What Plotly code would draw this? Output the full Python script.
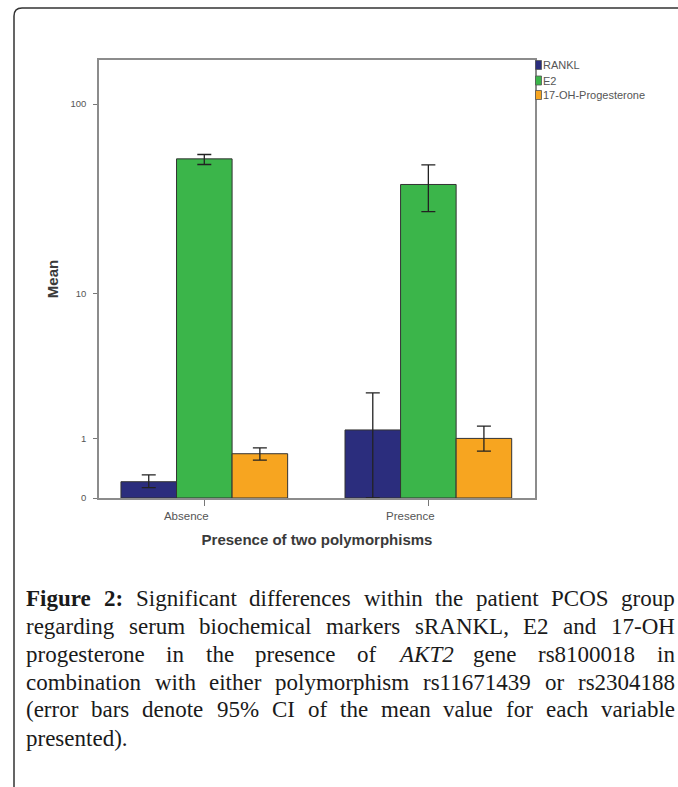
import math
import plotly.graph_objects as go

# ---------------- data ----------------
categories = ["Absence", "Presence"]
series_names = ["RANKL", "E2", "17-OH-Progesterone"]
rankl_mean = [0.21, 1.22]
rankl_lo = [0.13, 0.0]
rankl_hi = [0.31, 2.43]
e2_mean = [52.2, 38.4]
e2_lo = [48.8, 27.7]
e2_hi = [55.0, 48.6]
ohp_mean = [0.68, 1.01]
ohp_lo = [0.56, 0.73]
ohp_hi = [0.80, 1.32]
ytick_values = [0, 1, 10, 100]
ytick_labels = ["0", "1", "10", "100"]
series_colors = ["#2b2d7d", "#3bb54a", "#f7a520"]

x_title = "Presence of two polymorphisms"
y_title = "Mean"

caption_lines = [
    [("Figure", "b"), ("2:", "b"), ("Significant", ""), ("differences", ""), ("within", ""),
     ("the", ""), ("patient", ""), ("PCOS", ""), ("group", "")],
    [(w, "") for w in "regarding serum biochemical markers sRANKL, E2 and 17-OH".split()],
    [("progesterone", ""), ("in", ""), ("the", ""), ("presence", ""), ("of", ""), ("AKT2", "i"),
     ("gene", ""), ("rs8100018", ""), ("in", "")],
    [(w, "") for w in "combination with either polymorphism rs11671439 or rs2304188".split()],
    [(w, "") for w in "(error bars denote 95% CI of the mean value for each variable".split()],
    [(w, "") for w in "presented).".split()],
]

# ---------------- helpers ----------------
W, H = 678, 787
PL, PR, PT, PB = 99, 535, 60, 498


def xp(px):
    return (px - PL) / (PR - PL)


def yp(py):
    return (PB - py) / (PB - PT)


def safelog(v):
    # SPSS "safe log" scale: log10(v + 1)
    return math.log10(v + 1.0)


# ---------------- traces ----------------
fig = go.Figure()
series = [
    (rankl_mean, rankl_lo, rankl_hi),
    (e2_mean, e2_lo, e2_hi),
    (ohp_mean, ohp_lo, ohp_hi),
]
for name, color, (m, lo, hi) in zip(series_names, series_colors, series):
    tm = [safelog(v) for v in m]
    up = [safelog(h) - t for h, t in zip(hi, tm)]
    dn = [t - safelog(l) for l, t in zip(lo, tm)]
    fig.add_trace(go.Bar(
        name=name, x=categories, y=tm,
        marker=dict(color=color, line=dict(color="#333333", width=1)),
        error_y=dict(type="data", array=up, arrayminus=dn, visible=True,
                     color="#222222", thickness=1.3, width=7),
        showlegend=False,
    ))

# ---------------- manual compact legend ----------------
shapes = []
annotations = []
leg_y = [65, 80.5, 95]
for name, color, cy in zip(series_names, series_colors, leg_y):
    shapes.append(dict(type="rect", xref="paper", yref="paper",
                       x0=xp(535.5), x1=xp(541.5), y0=yp(cy + 4.5), y1=yp(cy - 4.5),
                       fillcolor=color, line=dict(color="#555555", width=0.8)))
    annotations.append(dict(text=name, xref="paper", yref="paper", x=xp(542.5), y=yp(cy),
                            xanchor="left", yanchor="middle", showarrow=False,
                            borderpad=0, borderwidth=0,
                            font=dict(family="Liberation Sans, Arial", size=11, color="#555555")))

# ---------------- outer rounded frame ----------------
r = 8
frame_path = (f"M {xp(14)},{yp(800)} L {xp(14)},{yp(8 + r)} "
              f"Q {xp(14)},{yp(8)} {xp(14 + r)},{yp(8)} L {xp(720)},{yp(8)}")
shapes.append(dict(type="path", xref="paper", yref="paper", path=frame_path,
                   line=dict(color="#333333", width=1.5)))

# ---------------- justified caption ----------------
REG = dict(zip("abcdefghijklmnopqrstuvwxyz",
               [444, 500, 444, 500, 444, 333, 500, 500, 278, 278, 500, 278, 778, 500, 500, 500, 500,
                333, 389, 278, 500, 500, 722, 500, 500, 444]))
REG.update(dict(zip("ABCDEFGHIJKLMNOPQRSTUVWXYZ",
                    [722, 667, 667, 722, 611, 556, 722, 722, 333, 389, 722, 611, 889, 722, 722, 556,
                     722, 667, 556, 611, 722, 722, 944, 722, 722, 611])))
REG.update({d: 500 for d in "0123456789"})
REG.update({" ": 250, "(": 333, ")": 333, ",": 250, ".": 250, "-": 333, "%": 833, ":": 278})
BOLD = dict(REG)
BOLD.update({"F": 611, "u": 556, "r": 444, ":": 333})
ITAL = dict(REG)
ITAL.update({"A": 611, "K": 667, "T": 556})

CAP_SIZE = 23
CAP_LEFT, CAP_RIGHT = 26, 675
cap_y = [598, 626, 654, 682, 710, 738]


def word_width(word, style):
    table = BOLD if style == "b" else ITAL if style == "i" else REG
    return sum(table.get(c, 500) for c in word) / 1000.0 * CAP_SIZE


for li, (words, cy) in enumerate(zip(caption_lines, cap_y)):
    widths = [word_width(w, s) for w, s in words]
    last = li == len(caption_lines) - 1
    if last or len(words) < 2:
        gap = REG[" "] / 1000.0 * CAP_SIZE
    else:
        gap = (CAP_RIGHT - CAP_LEFT - sum(widths)) / (len(words) - 1)
    x = CAP_LEFT
    for (w, s), ww in zip(words, widths):
        txt = f"<b>{w}</b>" if s == "b" else f"<i>{w}</i>" if s == "i" else w
        annotations.append(dict(text=txt, xref="paper", yref="paper", x=xp(x), y=yp(cy),
                                xanchor="left", yanchor="middle", showarrow=False,
                                borderpad=0, borderwidth=0,
                                font=dict(family="Liberation Serif, Times New Roman", size=CAP_SIZE,
                                          color="#1a1a1a")))
        x += ww + gap

# ---------------- layout ----------------
fig.update_layout(
    width=W, height=H,
    margin=dict(l=PL, r=W - PR, t=PT, b=H - PB, autoexpand=False),
    paper_bgcolor="white", plot_bgcolor="white",
    barmode="group", bargap=0.256, bargroupgap=0,
    font=dict(family="Liberation Sans, Arial", color="#555555"),
    shapes=shapes, annotations=annotations,
    showlegend=False,
)
fig.update_xaxes(
    type="category", range=[-0.470, 1.476],
    showline=True, linecolor="#8c8c8c", linewidth=1.5, mirror=True,
    ticks="outside", ticklen=6, tickcolor="#777777", tickwidth=1,
    tickfont=dict(size=11.5, color="#555555"), ticklabelshift=-18,
    showgrid=False, zeroline=False,
    title=dict(text=f"<b>{x_title}</b>", font=dict(size=15, color="#3a3a3a"), standoff=14),
)
fig.update_yaxes(
    range=[0, 2.229],
    tickmode="array", tickvals=[safelog(v) for v in ytick_values], ticktext=ytick_labels,
    showline=True, linecolor="#8c8c8c", linewidth=1.5, mirror=True,
    ticks="outside", ticklen=4, tickcolor="#777777", tickwidth=1,
    tickfont=dict(size=9.5, color="#555555"), ticklabelstandoff=5,
    showgrid=False, zeroline=False,
    title=dict(text=f"<b>{y_title}</b>", font=dict(size=15, color="#3a3a3a"), standoff=8),
)

fig.write_html(
    "out.html",
    config={"displayModeBar": False},
    post_script="document.body.style.margin='0';document.body.style.overflow='hidden';",
)
